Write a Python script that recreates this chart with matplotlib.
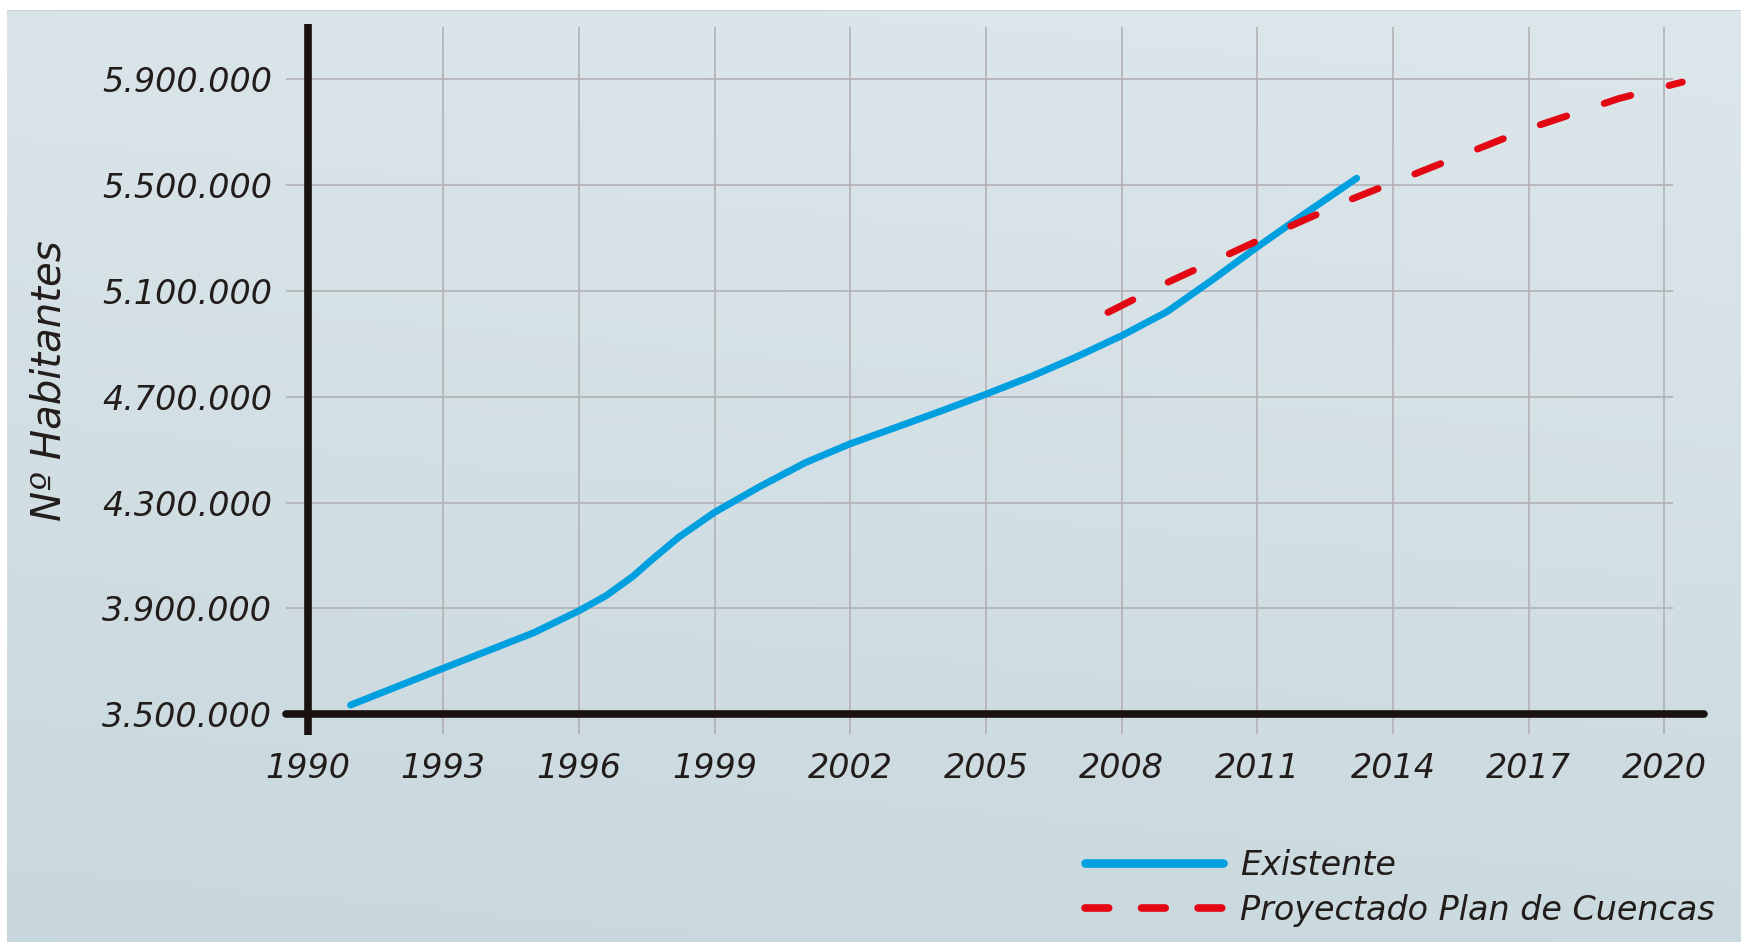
import numpy as np
import matplotlib.pyplot as plt

# Existing population
years_exist = [1990.95, 1993, 1995, 1996, 1996.6, 1997.2, 1997.6, 1998.2, 1999, 2000,
               2001, 2002, 2003, 2004, 2005, 2006, 2007, 2008, 2009, 2010, 2011,
               2012, 2013.2]
hab_exist = [3535000, 3674000, 3808000, 3891000, 3948000, 4022000, 4082000, 4168000,
             4263000, 4360000, 4450000, 4522000, 4583000, 4645000, 4709000, 4776000,
             4850000, 4930000, 5020000, 5140000, 5265000, 5385000, 5525000]

# Projection (Plan de Cuencas)
years_proj = [2007.7, 2009, 2011, 2013, 2015, 2017, 2019, 2020.4]
hab_proj = [5018000, 5130000, 5288000, 5440000, 5576000, 5712000, 5826000, 5888000]

x_ticks = [1990, 1993, 1996, 1999, 2002, 2005, 2008, 2011, 2014, 2017, 2020]
y_ticks = [3500000, 3900000, 4300000, 4700000, 5100000, 5500000, 5900000]
y_labels = ['3.500.000', '3.900.000', '4.300.000', '4.700.000',
            '5.100.000', '5.500.000', '5.900.000']

W, H = 1741, 942
fig = plt.figure(figsize=(W / 100, H / 100), dpi=100)
fig.patch.set_facecolor('white')

# background panel with soft gradient
bg = fig.add_axes([7 / W, 0, 1 - 7 / W, 1 - 10 / H], zorder=-10)
ny, nx = 200, 300
yy, xx = np.mgrid[0:1:ny * 1j, 0:1:nx * 1j]
t = np.clip(0.85 * yy + 0.15 * (1 - xx), 0, 1)
top = np.array([0.867, 0.906, 0.922])
bot = np.array([0.784, 0.847, 0.867])
img = top[None, None, :] * (1 - t[..., None]) + bot[None, None, :] * t[..., None]
bg.imshow(img, aspect='auto', extent=[0, 1, 0, 1], origin='upper')
bg.axhline(1, color='#c6d3d8', lw=1.5)
bg.set_axis_off()

xmin, xmax = 1989.522, 2020.88
ymin, ymax = 3420700, 6105900
ax = fig.add_axes([286 / W, 1 - 735.3 / H, (1704 - 286) / W, (735.3 - 24.4) / H])
ax.patch.set_alpha(0)
ax.set_xlim(xmin, xmax)
ax.set_ylim(ymin, ymax)
for s in ax.spines.values():
    s.set_visible(False)

grid_c = '#b3b0b6'
ax.vlines(x_ticks[1:], ymin + 5000, ymax - 8000, colors=grid_c, lw=1.2, zorder=1)
ax.hlines(y_ticks[1:], xmin, 2020.19, colors=grid_c, lw=1.2, zorder=1)

# heavy black axes
ax.plot([xmin, xmax], [3500000, 3500000], color='#1a1210', lw=5.5,
        solid_capstyle='round', clip_on=False, zorder=3)
ax.plot([1990, 1990], [ymin, ymax], color='#1a1210', lw=5.5,
        solid_capstyle='butt', clip_on=False, zorder=3)

ax.plot(years_exist, hab_exist, color='#009fe0', lw=5, solid_capstyle='round',
        solid_joinstyle='round', label='Existente', zorder=4)
ax.plot(years_proj, hab_proj, color='#e30613', lw=5, dashes=(4, 5.7),
        dash_capstyle='round', label='Proyectado Plan de Cuencas', zorder=5)

txt_c = '#221c1a'
font = dict(family='DejaVu Sans', style='italic', size=24, color=txt_c)
ax.set_xticks(x_ticks)
ax.set_xticklabels([str(y) for y in x_ticks], fontdict=font)
ax.set_yticks(y_ticks)
ax.set_yticklabels(y_labels, fontdict=font)
ax.tick_params(axis='both', length=0)
ax.tick_params(axis='y', pad=10)
ax.tick_params(axis='x', pad=12)

fig.text(49 / W, 1 - 381 / H, 'Nº Habitantes', rotation=90, ha='center', va='center',
         family='DejaVu Sans', style='italic', size=29, color=txt_c)

leg = ax.legend(loc='upper left', bbox_to_anchor=(1085 / W, 1 - 849 / H),
                bbox_transform=fig.transFigure, frameon=False, handlelength=4.15,
                handletextpad=0.5, labelspacing=0.35, borderpad=0, borderaxespad=0,
                prop=dict(family='DejaVu Sans', style='italic', size=24))
for txt in leg.get_texts():
    txt.set_color(txt_c)
h_blue, h_red = leg.legend_handles
h_blue.set_linewidth(6.2)
h_blue.set_solid_capstyle('round')
h_red.set_linewidth(5.5)
h_red.set_dashes((3.1, 4.3))
h_red.set_dash_capstyle('round')

fig.savefig('out.png', dpi=100)
